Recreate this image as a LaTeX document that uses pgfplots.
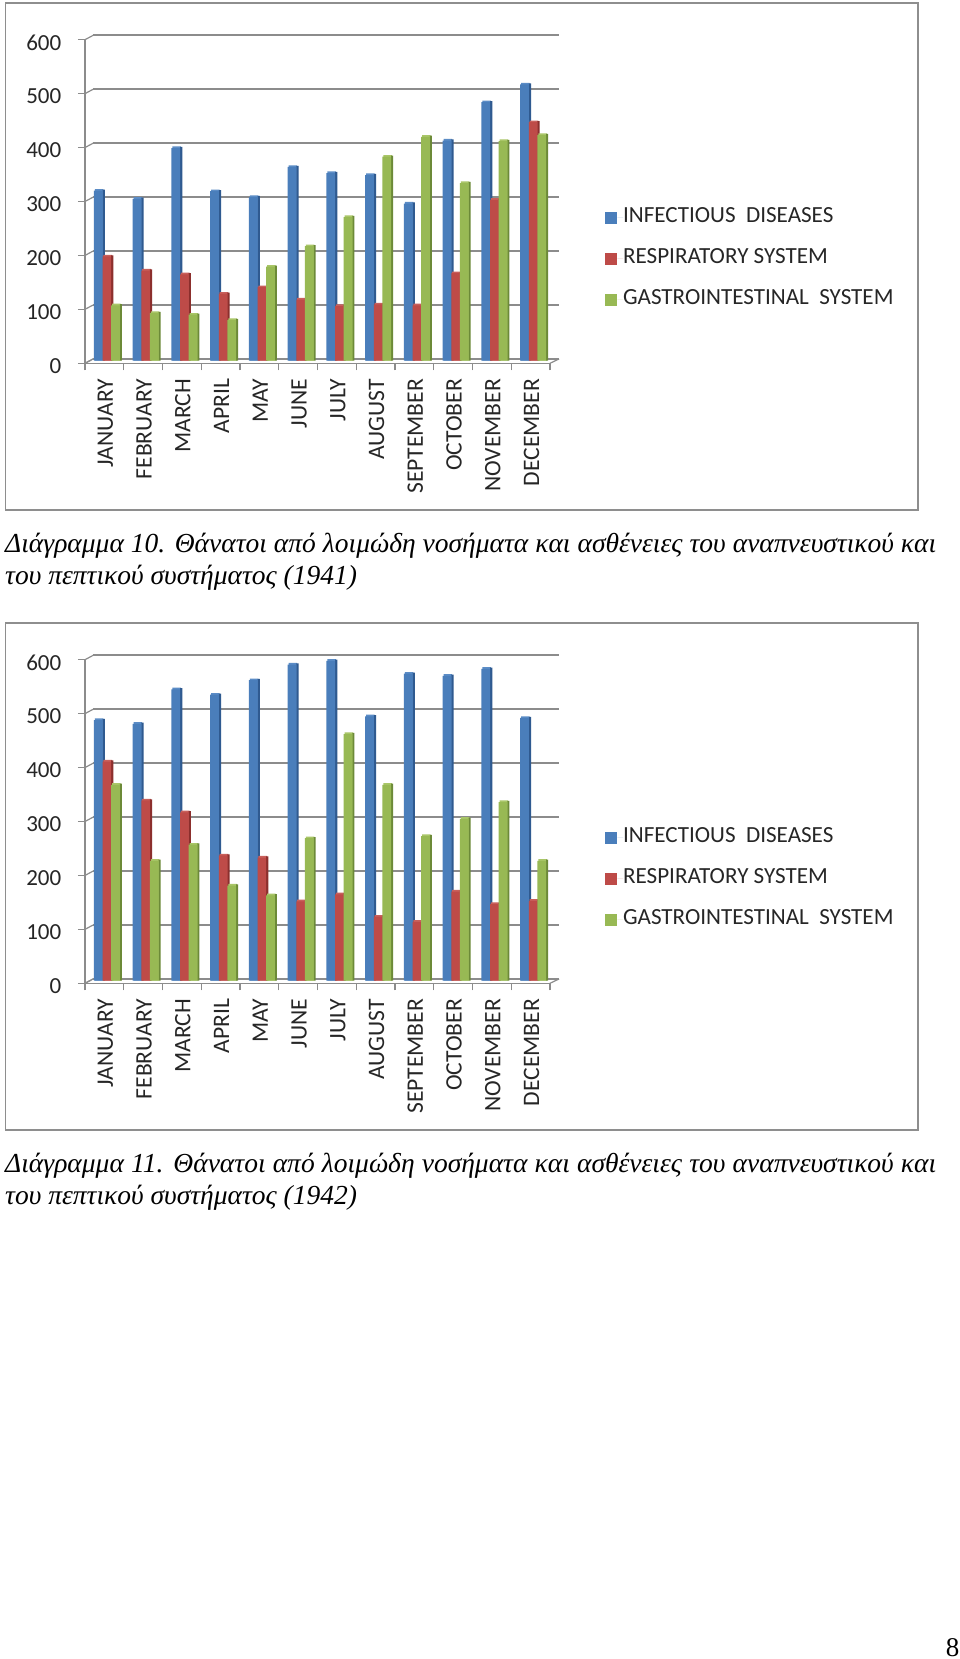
\documentclass[border=0pt]{standalone}
\usepackage{fontspec}
\setmainfont{Liberation Serif}
\newfontfamily\chartfont{Carlito}
\usepackage{pgfplots}
\usepackage{pgfplotstable}
\pgfplotsset{compat=1.18}
\definecolor{bluef}{HTML}{4A7EBB}\definecolor{blues}{HTML}{2F5A90}\definecolor{bluec}{HTML}{5B8CC6}
\definecolor{redf}{HTML}{BE4B48}\definecolor{reds}{HTML}{8C2F2D}\definecolor{redc}{HTML}{C9605C}
\definecolor{greenf}{HTML}{98B954}\definecolor{greens}{HTML}{6C8A38}\definecolor{greenc}{HTML}{A9C668}
\definecolor{gridc}{HTML}{8C8C8C}\definecolor{framec}{HTML}{8E8E8E}\definecolor{textc}{HTML}{262626}
\pgfplotstableread{
m b r g
0 315 193 102.5
1 300 167 88
2 394 160 85
3 314 124 75
4 303 136 174
5 359 113 212
6 347.5 101 266
7 344 104 378
8 291 102.5 415
9 408 162 329
10 479 298 407
11 512 442 418
}\dataA
\pgfplotstableread{
m b r g
0 483 406 363
1 476 334 222
2 540 312 252
3 530 232 176
4 557 228 158
5 586 147 264
6 593 160 457
7 490 118.5 363
8 569 109 268
9 565 165 300
10 578 142 331
11 487 148 222
}\dataB
\pgfplotsset{
  chartbase/.style={scale only axis,width=465pt,height=323.6pt,xmin=-0.5,xmax=11.5,ymin=0,ymax=600,clip=false},
}
\newcommand{\series}[5]{% table, column, centre shift, front, side / cap
  \addplot[ybar,forget plot,fill=#5c,draw=none,bar width=8.6pt,bar shift=#3pt+0.9pt] table[x=m,y expr=\thisrow{#2}+3.1] {#1};
  \addplot[ybar,forget plot,fill=#5s,draw=none,bar width=2.2pt,bar shift=#3pt+5.4pt] table[x=m,y expr=\thisrow{#2}+2.2] {#1};
  \addplot[ybar,fill=#4,draw=none,bar width=8.6pt,bar shift=#3pt] table[x=m,y=#2] {#1};
}
\newcommand{\chart}[3]{%
  \begin{scope}[yshift=-#3pt]
  \draw[framec,line width=1.5pt,fill=white] (5.6pt,1656pt) rectangle (918pt,1149pt);
  % back wall and its gridlines
  \begin{axis}[chartbase,at={(93pt,1300pt)},anchor=south west,width=466pt,height=324pt,
    axis line style={draw=none},ymajorgrids,ytick={0,100,...,600},xtick=\empty,yticklabels={},
    major tick length=0pt,grid style={gridc,line width=1.2pt}]
    \addplot[draw=none,forget plot] coordinates {(0,0) (11,600)};
  \end{axis}
  % side wall and floor edges
  \draw[gridc,line width=1.2pt] (85pt,1295.7pt)--(93pt,1300pt) (550pt,1295.7pt)--(559pt,1300pt);
  \foreach \yy in {0,53.93,...,323.7}{\draw[gridc,line width=1.2pt] (85pt,1295.7pt+\yy pt)--(93pt,1300pt+\yy pt);}
  % front axis with ticks and labels
  \begin{axis}[chartbase,at={(85pt,1295.7pt)},anchor=south west,
    axis x line*=bottom,axis y line*=left,axis line style={gridc,line width=1.2pt,-},
    ytick={0,100,...,600},xtick={-0.5,0.5,...,11.5},
    extra x ticks={0,1,...,11},extra x tick labels={JANUARY,FEBRUARY,MARCH,APRIL,MAY,JUNE,JULY,AUGUST,SEPTEMBER,OCTOBER,NOVEMBER,DECEMBER},
    extra x tick style={major tick length=0pt,
      xticklabel style={rotate=90,anchor=east,inner sep=0pt,text height=15pt,text depth=0pt,
      font=\chartfont\fontsize{23.6}{23.6}\selectfont,text=textc,yshift=-1pt,xshift=-15.5pt}},
    xticklabels={},
    tick style={gridc,line width=1.2pt},major tick length=7pt,tick align=outside,
    yticklabel style={anchor=east,inner sep=0pt,font=\chartfont\fontsize{23}{23}\selectfont,text=textc,xshift=-16.5pt,yshift=-2.7pt},
    /pgf/number format/assume math mode=true]
    \addplot[draw=none,forget plot] coordinates {(0,0) (11,600)};
  \end{axis}
  % bars
  \begin{axis}[chartbase,at={(85pt,1298.4pt)},anchor=south west,axis lines=none,
    ytick=\empty,xtick=\empty,
    legend cell align=left,
    legend style={at={(1.118,0.470)},anchor=north west,draw=none,fill=none,inner sep=0pt,
      row sep=23pt,font=\chartfont\fontsize{23.1}{23.1}\selectfont,text=textc,
      nodes={inner sep=0pt,text height=14pt,text depth=4pt}},
    legend image code/.code={\fill[##1] (0pt,-6pt) rectangle (12.3pt,6pt);\path (12.3pt,0pt)--(18pt,0pt);},
    ]
    \series{#1}{b}{-6.1}{bluef}{blue}
    \series{#1}{r}{2.5}{redf}{red}
    \series{#1}{g}{11.1}{greenf}{green}
    \legend{INFECTIOUS\ \ DISEASES,RESPIRATORY SYSTEM,GASTROINTESTINAL\ \ SYSTEM}
  \end{axis}
  \node[anchor=base west,inner sep=0pt,font=\itshape\fontsize{27.5}{27.5}\selectfont] at (5pt,1106.3pt)
    {\makebox[931pt][s]{Διάγραμμα #2. Θάνατοι από λοιμώδη νοσήματα και ασθένειες του αναπνευστικού και}};
  \end{scope}
}
\begin{document}
\begin{tikzpicture}[x=1pt,y=1pt]
  \useasboundingbox (0pt,0pt) rectangle (960pt,1659pt);
  \fill[white] (0pt,0pt) rectangle (960pt,1659pt);
  \chart{\dataA}{10}{0}
  \chart{\dataB}{11}{620}
  \node[anchor=base west,inner sep=0pt,font=\itshape\fontsize{27.5}{27.5}\selectfont] at (5pt,1074.5pt) {του πεπτικού συστήματος (1941)};
  \node[anchor=base west,inner sep=0pt,font=\itshape\fontsize{27.5}{27.5}\selectfont] at (5pt,454.5pt) {του πεπτικού συστήματος (1942)};
  \node[anchor=base east,inner sep=0pt,font=\fontsize{27}{27}\selectfont] at (959.6pt,2.5pt) {8};
\end{tikzpicture}
\end{document}
